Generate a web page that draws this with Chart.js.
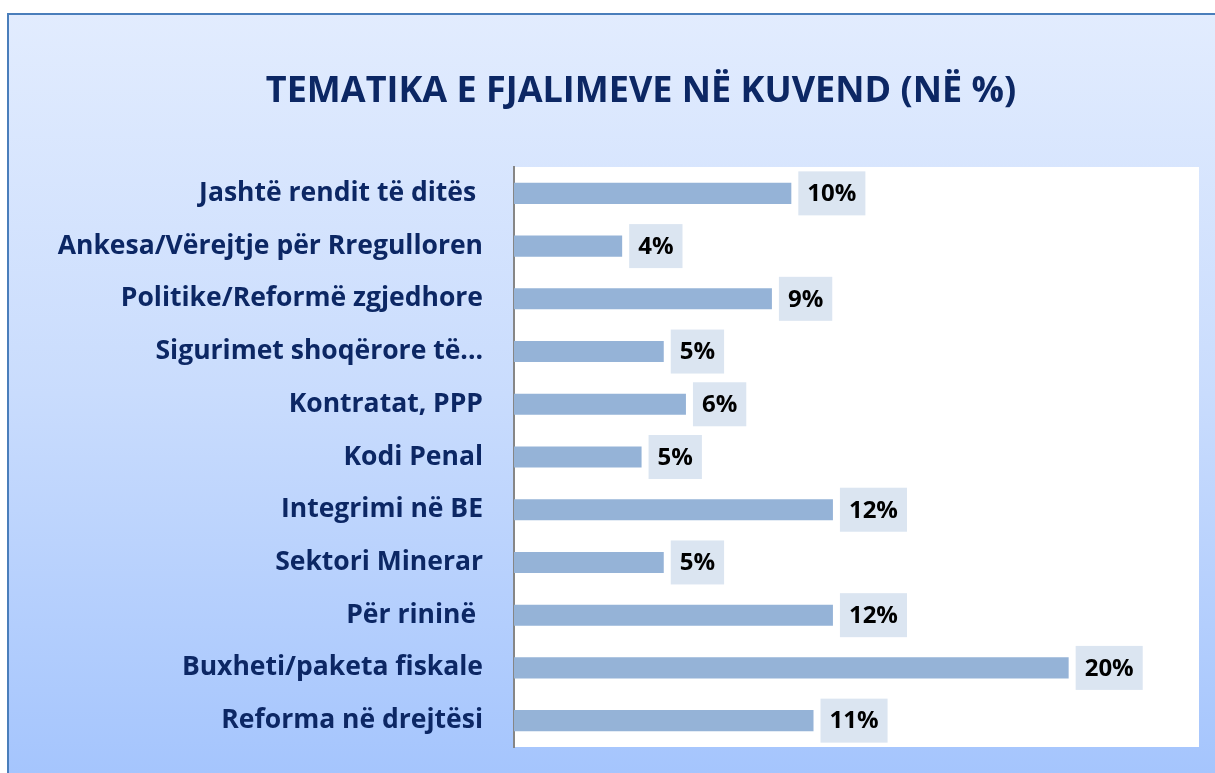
<!DOCTYPE html>
<html>
<head>
<meta charset="utf-8">
<script src="https://cdn.jsdelivr.net/npm/chart.js@4.4.0/dist/chart.umd.min.js"></script>
<style>
  body { margin: 0; background: #fff; }
  canvas { display: block; }
</style>
</head>
<body>
<canvas id="miGrafico" width="1215" height="773"></canvas>
<script>
const titulli = 'TEMATIKA E FJALIMEVE NË KUVEND (NË %)';
const kategorite = [
    'Jashtë rendit të ditës ',
    'Ankesa/Vërejtje për Rregulloren',
    'Politike/Reformë zgjedhore',
    'Sigurimet shoqërore të...',
    'Kontratat, PPP',
    'Kodi Penal',
    'Integrimi në BE',
    'Sektori Minerar',
    'Për rininë ',
    'Buxheti/paketa fiskale',
    'Reforma në drejtësi'
];
const vlerat = [10.0, 3.9, 9.3, 5.4, 6.2, 4.6, 11.5, 5.4, 11.5, 20.0, 10.8];

const NAVY = '#0c2764';
const FONT = 'Open Sans';

// sfondi, korniza, zona e bardhe
const sfondi = {
    id: 'sfondi',
    beforeDraw(chart) {
        const ctx = chart.ctx;
        const w = chart.width, h = chart.height;
        const a = chart.chartArea;
        ctx.save();
        ctx.fillStyle = '#ffffff';
        ctx.fillRect(0, 0, w, h);
        const g = ctx.createLinearGradient(0, 14, 0, h);
        g.addColorStop(0, '#e2ecfe');
        g.addColorStop(0.5, '#c9dcfd');
        g.addColorStop(1, '#a5c5fd');
        ctx.fillStyle = g;
        ctx.fillRect(8, 14, w, h);
        ctx.strokeStyle = '#4a7ebb';
        ctx.lineWidth = 2;
        ctx.strokeRect(8, 14, w + 10, h + 10);
        ctx.fillStyle = '#ffffff';
        ctx.fillRect(a.left, a.top, a.right - a.left, a.bottom - a.top);
        // titulli
        ctx.fillStyle = NAVY;
        ctx.font = 'bold 36px ' + FONT;
        ctx.textAlign = 'center';
        ctx.textBaseline = 'middle';
        ctx.fillText(titulli, 641, 92);
        ctx.restore();
    }
};

// etiketat e vlerave
const etiketat = {
    id: 'etiketat',
    afterDatasetsDraw(chart) {
        const ctx = chart.ctx;
        const meta = chart.getDatasetMeta(0);
        ctx.save();
        ctx.font = 'bold 24px ' + FONT;
        ctx.textBaseline = 'middle';
        ctx.textAlign = 'left';
        meta.data.forEach((bar, i) => {
            const txt = Math.round(vlerat[i]) + '%';
            const tw = ctx.measureText(txt).width;
            const x0 = bar.x + 7;
            const bw = tw + 18;
            ctx.fillStyle = '#dbe5f1';
            ctx.fillRect(x0, bar.y - 22, bw, 44);
            ctx.fillStyle = '#000000';
            ctx.fillText(txt, x0 + 9, bar.y + 1);
        });
        ctx.restore();
    }
};

const grafico = new Chart(document.getElementById('miGrafico'), {
    type: 'bar',
    data: {
        labels: kategorite,
        datasets: [{
            data: vlerat,
            backgroundColor: '#95b3d7',
            borderWidth: 0,
            categoryPercentage: 1,
            barPercentage: 0.4
        }]
    },
    options: {
        indexAxis: 'y',
        responsive: false,
        animation: false,
        layout: { padding: { top: 167, right: 16, bottom: 26, left: 0 } },
        plugins: { legend: { display: false }, tooltip: { enabled: false } },
        scales: {
            x: {
                min: 0,
                max: 24.7,
                display: false
            },
            y: {
                afterFit(s) {
                    s.width = 514;
                    s.paddingTop = 0;
                    s.paddingBottom = 0;
                },
                grid: { display: false, drawTicks: false },
                border: { display: true, color: '#868686', width: 2 },
                ticks: {
                    padding: 31,
                    color: NAVY,
                    font: { family: FONT, weight: 'bold', size: 26.5 }
                }
            }
        }
    },
    plugins: [sfondi, etiketat]
});
</script>
</body>
</html>
